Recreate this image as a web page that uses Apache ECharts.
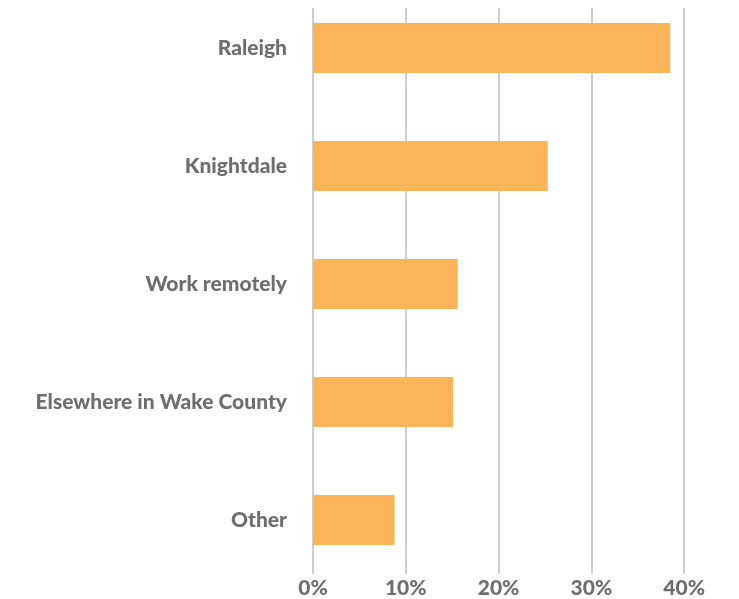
<!DOCTYPE html>
<html>
<head>
<meta charset="UTF-8">
<title>Where residents work</title>
<script src="https://cdn.jsdelivr.net/npm/echarts@6/dist/echarts.min.js"></script>
<style>
    body { margin: 0; padding: 0; background: #fff; }
    #main { width: 739px; height: 599px; }
</style>
</head>
<body>
<div id="main"></div>
<script type="text/javascript">
    // data
    var places = ['Raleigh', 'Knightdale', 'Work remotely', 'Elsewhere in Wake County', 'Other'];
    var shares = [0.385, 0.253, 0.156, 0.151, 0.088];
    var tickValues = [0, 0.1, 0.2, 0.3, 0.4];

    var labelFont = { color: '#6d6e71', fontFamily: 'Lato', fontWeight: 900, fontSize: 21 };

    var myChart = echarts.init(document.getElementById('main'));
    var option = {
        animation: false,
        grid: [
            // grid for the vertical lines and the percent labels
            { left: 313, width: 371.2, top: 8, height: 567 },
            // grid for the bars: first and last bar sit on the edges
            { left: 313, width: 371.2, top: 48, height: 472 }
        ],
        xAxis: [{
            gridIndex: 0,
            type: 'value',
            min: tickValues[0],
            max: tickValues[tickValues.length - 1],
            interval: 0.1,
            axisLine: { show: false },
            axisTick: { show: false },
            splitLine: { show: true, lineStyle: { color: '#bcbcbc', width: 1.5 } },
            axisLabel: Object.assign({
                margin: 4,
                formatter: function (v) { return Math.round(v * 100) + '%'; }
            }, labelFont)
        }, {
            gridIndex: 1,
            type: 'value',
            min: tickValues[0],
            max: tickValues[tickValues.length - 1],
            show: false
        }],
        yAxis: [{
            gridIndex: 0,
            type: 'category',
            data: places,
            show: false
        }, {
            gridIndex: 1,
            type: 'category',
            data: places,
            inverse: true,
            boundaryGap: false,
            axisLine: { show: false },
            axisTick: { show: false },
            axisLabel: Object.assign({ margin: 26 }, labelFont)
        }],
        series: [{
            type: 'bar',
            xAxisIndex: 1,
            yAxisIndex: 1,
            data: shares,
            barWidth: 50,
            itemStyle: { color: '#fbb457' }
        }]
    };
    myChart.setOption(option);
</script>
</body>
</html>
